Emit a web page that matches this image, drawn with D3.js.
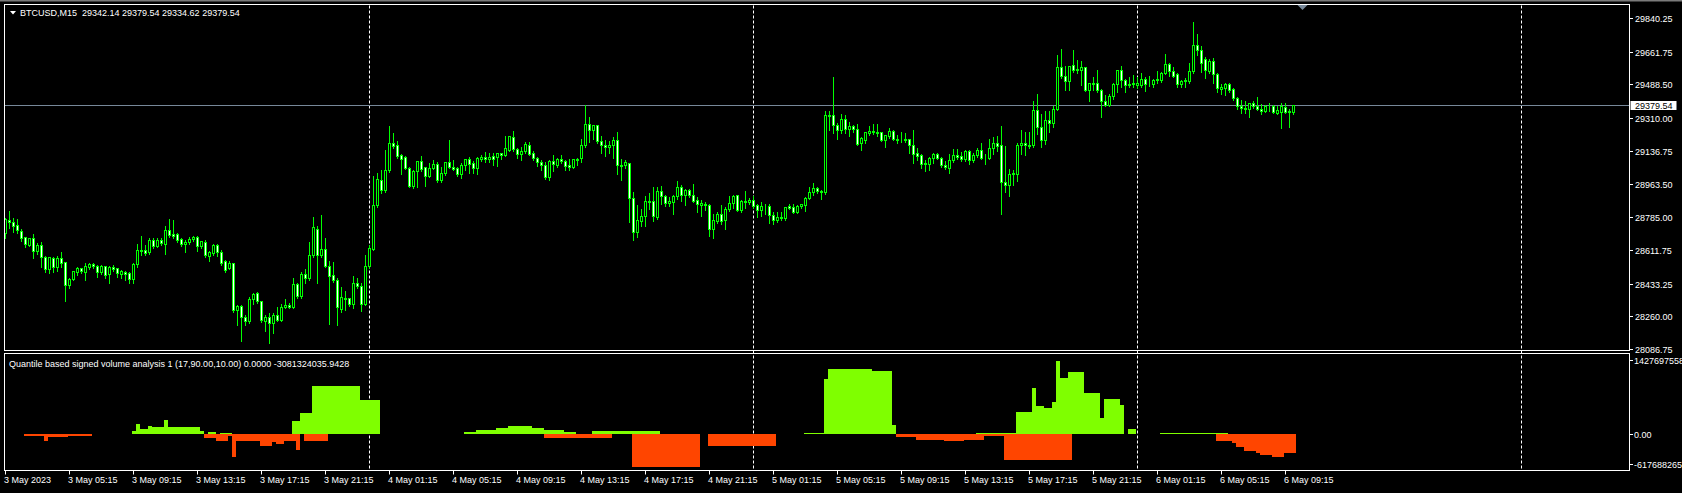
<!DOCTYPE html>
<html>
<head>
<meta charset="utf-8">
<script src="https://cdn.jsdelivr.net/npm/d3@7"></script>
<style>
  html, body { margin: 0; padding: 0; background: #000; overflow: hidden; }
  svg text { font-family: "Liberation Sans", Tahoma, sans-serif; font-size: 9px; fill: #fff; }
</style>
</head>
<body>
<div id="chart"></div>
<script>
// BTCUSD M15, bars from 3 May 2023 01:15
const opens = [
28702,28772,28760,28745,28714,28679,28639,28675,28604,28636,28574,28511,28571,28520,28569,28548,28428,28458,28493,28516,
28493,28521,28538,28527,28493,28525,28485,28523,28514,28486,28493,28490,28458,28538,28613,28609,28601,28666,28634,28662,
28644,28719,28697,28697,28672,28643,28652,28670,28680,28631,28654,28578,28595,28639,28599,28551,28516,28543,28292,28317,
28256,28234,28352,28384,28340,28234,28256,28225,28269,28243,28308,28322,28309,28433,28366,28486,28461,28584,28723,28584,
28617,28529,28481,28454,28299,28357,28357,28327,28437,28423,28327,28525,28617,28848,28984,28927,29033,29179,29165,29112,
29103,29046,28949,29028,29085,29051,29002,29046,29069,28980,29020,29078,29051,29046,29013,29064,29094,29073,29044,29094,
29104,29094,29108,29104,29126,29117,29143,29210,29147,29122,29134,29168,29126,29097,29078,29061,28997,29083,29061,29094,
29083,29059,29051,29094,29097,29168,29280,29245,29271,29189,29170,29156,29167,29196,29064,29061,29073,28887,28705,28763,
28790,28873,28873,28785,28926,28899,28860,28867,28896,28945,28901,28929,28901,28878,28851,28855,28851,28725,28765,28803,
28768,28829,28860,28904,28821,28873,28864,28878,28851,28821,28846,28846,28796,28768,28786,28781,28843,28839,28814,28843,
28851,28887,28917,28940,28926,28917,29320,29329,29276,29245,29307,29253,29267,29253,29179,29196,29232,29244,29238,29235,
29196,29214,29244,29200,29192,29192,29200,29168,29126,29112,29066,29066,29097,29122,29099,29064,29046,29086,29117,29108,
29092,29138,29086,29112,29143,29101,29097,29150,29179,29165,28973,28956,29013,29013,29165,29179,29168,29165,29353,29263,
29192,29302,29285,29359,29581,29535,29505,29592,29563,29567,29581,29461,29497,29497,29461,29401,29380,29426,29488,29567,
29514,29483,29497,29486,29483,29519,29490,29490,29511,29511,29550,29594,29562,29541,29488,29505,29505,29558,29699,29673,
29624,29562,29615,29546,29466,29472,29493,29465,29417,29376,29359,29359,29391,29373,29359,29348,29376,29376,29338,29341,
29369,29341,29342.14
];
const highs = [
28781,28820,28781,28776,28723,28684,28680,28698,28652,28657,28581,28578,28578,28581,28601,28551,28463,28503,28525,28521,
28543,28546,28543,28534,28534,28531,28529,28534,28521,28507,28503,28498,28543,28648,28688,28639,28680,28680,28675,28675,
28740,28776,28772,28705,28675,28666,28684,28688,28688,28662,28666,28609,28648,28648,28613,28560,28556,28546,28322,28322,
28269,28366,28387,28392,28344,28269,28278,28282,28313,28327,28352,28331,28463,28437,28498,28511,28657,28790,28740,28798,
28680,28556,28551,28463,28419,28397,28361,28476,28468,28437,28586,28639,29006,29020,29037,29143,29271,29232,29192,29122,
29112,29055,29037,29086,29112,29055,29073,29090,29081,29055,29081,29196,29090,29055,29073,29097,29104,29086,29104,29117,
29134,29126,29126,29129,29129,29218,29218,29244,29156,29157,29184,29184,29138,29108,29090,29081,29090,29117,29101,29115,
29090,29094,29097,29101,29200,29382,29320,29276,29274,29218,29196,29191,29214,29238,29094,29090,29076,28922,28851,28829,
28899,28917,28949,28945,28953,28904,28896,28904,28979,28958,28935,28935,28963,28896,28878,28869,28855,28807,28813,28851,
28843,28899,28904,28904,28878,28926,28887,28901,28860,28867,28860,28856,28813,28816,28816,28843,28860,28860,28851,28860,
28896,28945,28969,28949,28931,29350,29350,29528,29285,29333,29329,29293,29276,29281,29214,29238,29271,29280,29280,29238,
29223,29260,29249,29221,29238,29232,29203,29249,29152,29122,29090,29104,29126,29129,29104,29086,29122,29150,29147,29133,
29143,29143,29126,29152,29179,29122,29202,29210,29218,29271,29165,29041,29037,29182,29249,29237,29237,29403,29440,29334,
29350,29350,29376,29646,29678,29588,29588,29673,29620,29615,29585,29500,29528,29567,29465,29435,29440,29497,29567,29588,
29521,29528,29539,29532,29550,29528,29535,29521,29563,29556,29652,29602,29585,29550,29514,29527,29606,29821,29758,29694,
29638,29624,29629,29553,29493,29500,29497,29470,29426,29408,29403,29394,29401,29426,29387,29380,29391,29382,29376,29391,
29391,29359,29379.54
];
const lows = [
28680,28728,28710,28702,28662,28631,28634,28569,28595,28525,28498,28493,28498,28503,28525,28345,28410,28454,28481,28493,
28454,28511,28516,28472,28486,28463,28437,28503,28472,28463,28454,28437,28437,28525,28586,28586,28595,28622,28631,28639,
28595,28684,28675,28657,28634,28604,28648,28662,28609,28622,28578,28556,28586,28581,28534,28498,28511,28287,28216,28133,
28216,28229,28327,28335,28234,28186,28123,28172,28239,28238,28304,28304,28304,28361,28361,28440,28454,28578,28440,28578,
28525,28221,28445,28216,28287,28296,28317,28304,28410,28292,28322,28521,28613,28843,28917,28922,29028,29152,29099,29016,
29041,28945,28944,28949,29033,28953,28998,29043,28975,28975,29011,29046,29037,29006,28995,29037,29023,29020,29016,29086,
29081,29081,29064,29061,29094,29114,29139,29138,29103,29090,29129,29117,29090,29059,29037,28990,28984,29033,29055,29076,
29037,29037,29046,29062,29079,29161,29187,29200,29182,29126,29112,29129,29101,29016,28984,29048,28763,28666,28684,28740,
28742,28829,28768,28776,28860,28846,28846,28803,28884,28873,28851,28896,28869,28814,28793,28825,28688,28679,28758,28750,
28723,28821,28839,28820,28814,28834,28856,28839,28790,28793,28807,28758,28750,28763,28772,28772,28829,28811,28811,28836,
28821,28882,28904,28917,28882,28913,29249,29235,29202,29235,29235,29218,29240,29168,29143,29182,29225,29228,29218,29192,
29161,29207,29196,29182,29187,29187,29126,29076,29090,29046,29033,29037,29073,29094,29055,29043,29023,29081,29094,29086,
29086,29069,29081,29104,29094,29069,29094,29122,29136,28803,28922,28899,28958,28979,29122,29117,29152,29161,29228,29161,
29175,29238,29263,29355,29527,29461,29461,29558,29550,29488,29456,29403,29461,29452,29320,29376,29376,29415,29452,29479,
29452,29475,29479,29470,29475,29458,29483,29479,29497,29505,29546,29535,29528,29479,29479,29479,29500,29553,29647,29556,
29523,29553,29497,29452,29440,29435,29452,29408,29359,29338,29338,29320,29364,29355,29334,29345,29352,29338,29334,29260,
29338,29267,29334.62
];
const closes = [
28776,28760,28740,28719,28673,28643,28677,28604,28639,28574,28511,28573,28520,28571,28543,28428,28458,28498,28518,28498,
28525,28539,28525,28493,28529,28481,28523,28511,28490,28498,28486,28458,28538,28609,28604,28595,28666,28634,28662,28648,
28719,28693,28688,28666,28643,28652,28672,28680,28631,28657,28583,28601,28639,28599,28543,28503,28543,28292,28317,28256,
28234,28352,28379,28340,28239,28256,28225,28269,28243,28309,28322,28308,28433,28366,28486,28461,28586,28733,28584,28617,
28529,28472,28450,28309,28362,28349,28327,28437,28419,28327,28529,28622,28848,28988,28927,29037,29179,29161,29108,29094,
29046,28949,29030,29085,29041,29002,29046,29069,28980,29020,29078,29050,29041,29013,29064,29094,29069,29044,29099,29104,
29094,29104,29094,29126,29115,29152,29214,29147,29122,29138,29175,29122,29097,29076,29061,28997,29083,29066,29094,29081,
29055,29051,29094,29086,29168,29280,29245,29271,29187,29167,29157,29170,29196,29061,29057,29076,28885,28705,28768,28793,
28869,28864,28790,28926,28896,28860,28873,28899,28945,28901,28931,28901,28873,28853,28860,28851,28725,28772,28803,28765,
28831,28860,28896,28821,28873,28864,28878,28846,28821,28846,28843,28796,28768,28786,28781,28839,28834,28814,28846,28856,
28887,28920,28940,28922,28919,29324,29329,29271,29245,29307,29253,29267,29253,29175,29202,29235,29244,29235,29232,29196,
29218,29244,29200,29192,29196,29200,29168,29119,29108,29066,29073,29101,29122,29097,29061,29050,29090,29117,29104,29092,
29138,29086,29117,29143,29099,29097,29154,29179,29161,28970,28956,29016,29020,29168,29179,29165,29161,29353,29263,29192,
29302,29285,29359,29581,29532,29505,29588,29563,29572,29581,29461,29497,29493,29458,29399,29380,29429,29493,29567,29511,
29484,29493,29488,29497,29519,29488,29493,29514,29518,29550,29594,29558,29535,29488,29507,29514,29562,29699,29673,29602,
29563,29615,29544,29468,29475,29493,29461,29415,29373,29362,29366,29391,29373,29359,29348,29376,29373,29341,29352,29376,
29341,29348,29379.54
];

// signed volume histogram, runs of bars [first, last, value in millions]
const buyRuns = [
  [32,32,71],[33,33,206],[34,35,109],[36,36,167],[37,39,141],[40,40,283],[41,48,148],[49,49,71],[51,52,51],
  [54,56,20],[72,73,264],[74,76,412],[77,88,939],[89,93,669],
  [115,117,51],[118,122,90],[123,125,129],[126,131,167],[132,134,129],[135,139,90],[140,142,51],[147,163,71],
  [200,204,32],[205,205,1070],[206,216,1267],[217,221,1228],[222,222,186],
  [243,252,32],[253,256,437],[257,257,900],[258,259,553],[260,261,514],[262,262,630],[263,263,1427.697558],
  [264,265,1093],[266,269,1209],[270,273,804],[274,274,320],[275,278,688],[279,279,572],[281,282,109],[289,305,22]
];
const sellRuns = [
  [5,9,-32],[10,10,-116],[11,15,-45],[16,21,-32],[50,52,-70],[53,55,-116],[56,56,-22],[57,57,-425],[58,63,-135],
  [64,66,-230],[67,67,-154],[68,69,-193],[70,72,-135],[73,73,-290],[75,80,-116],
  [135,151,-77],[157,173,-617.688265],[176,192,-231],
  [223,227,-39],[228,234,-103],[235,239,-122],[240,244,-103],[245,249,-26],[250,266,-489],
  [303,306,-122],[307,307,-160],[308,309,-238],[310,312,-315],[313,313,-354],[314,316,-392],[317,319,-431],[320,322,-354]
];

const priceTicks = [29840.25, 29661.75, 29488.50, 29310.00, 29136.75, 28963.50, 28785.00, 28611.75, 28433.25, 28260.00, 28086.75];
const volTicks = [1427697558, 0, -617688265];
const volTickLabels = ["1427697558", "0.00", "-617688265"];
const timeLabels = ["3 May 2023", "3 May 05:15", "3 May 09:15", "3 May 13:15", "3 May 17:15", "3 May 21:15",
  "4 May 01:15", "4 May 05:15", "4 May 09:15", "4 May 13:15", "4 May 17:15", "4 May 21:15",
  "5 May 01:15", "5 May 05:15", "5 May 09:15", "5 May 13:15", "5 May 17:15", "5 May 21:15",
  "6 May 01:15", "6 May 05:15", "6 May 09:15"];
const lastPrice = 29379.54;
const titleText = "BTCUSD,M15  29342.14 29379.54 29334.62 29379.54";
const indicatorText = "Quantile based signed volume analysis 1 (17,90.00,10.00) 0.0000 -3081324035.9428";

const W = 1682, H = 493;
const LEFT = 4.5, RIGHT = 1629.5;
const MAIN = { top: 4.5, bottom: 350.5 };
const SUB = { top: 353.5, bottom: 470.5 };

const n = opens.length;
const t0 = new Date(2023, 4, 3, 1, 15);
const times = opens.map((d, i) => d3.timeMinute.offset(t0, 15 * i));

const buy = new Array(n).fill(0);
const sell = new Array(n).fill(0);
buyRuns.forEach(([a, b, v]) => { for (let i = a; i <= b; i++) buy[i] = v * 1e6; });
sellRuns.forEach(([a, b, v]) => { for (let i = a; i <= b; i++) sell[i] = v * 1e6; });

const svg = d3.select("#chart").append("svg")
  .attr("width", W).attr("height", H)
  .style("background", "#000")
  .style("display", "block");

const x = d3.scaleTime()
  .domain([t0, d3.timeMinute.offset(t0, 15)])
  .range([5.5, 9.5]);
const y = d3.scaleLinear().domain([28086.75, 29840.25]).range([349.5, 18.5]);
const yv = d3.scaleLinear().domain([-617688265, 1427697558]).range([466.5, 360.5]);

const px = v => Math.round(v - 0.5) + 0.5;

// clip areas
const defs = svg.append("defs");
defs.append("clipPath").attr("id", "clipMain").append("rect")
  .attr("x", LEFT + 0.5).attr("y", MAIN.top + 0.5)
  .attr("width", RIGHT - LEFT - 1).attr("height", MAIN.bottom - MAIN.top - 1);
defs.append("clipPath").attr("id", "clipSub").append("rect")
  .attr("x", LEFT + 0.5).attr("y", SUB.top + 0.5)
  .attr("width", RIGHT - LEFT - 1).attr("height", SUB.bottom - SUB.top - 1);

// top grey strip
svg.append("rect").attr("x", 0).attr("y", 0).attr("width", W).attr("height", 1.5).attr("fill", "#7a7a7a");

// day separators
const days = d3.timeDay.range(d3.timeDay.ceil(t0), x.invert(RIGHT));
svg.append("g").selectAll("line").data(days).join("line")
  .attr("x1", d => px(x(d))).attr("x2", d => px(x(d)))
  .attr("y1", MAIN.top + 1).attr("y2", SUB.bottom)
  .attr("stroke", "#fff").attr("stroke-width", 1)
  .attr("stroke-dasharray", "3,2");

// bid line
const gMain = svg.append("g").attr("clip-path", "url(#clipMain)");
gMain.append("line")
  .attr("x1", LEFT).attr("x2", RIGHT)
  .attr("y1", px(y(lastPrice))).attr("y2", px(y(lastPrice)))
  .attr("stroke", "#778899");

// candles
const candles = gMain.append("g").selectAll("g").data(d3.range(n)).join("g");
candles.append("line")
  .attr("x1", i => x(times[i])).attr("x2", i => x(times[i]))
  .attr("y1", i => Math.round(y(Math.max(highs[i], opens[i], closes[i]))))
  .attr("y2", i => Math.round(y(Math.min(lows[i], opens[i], closes[i]))) + 1)
  .attr("stroke", "#00ff00");
candles.append("rect")
  .attr("x", i => x(times[i]) - 1)
  .attr("width", 2)
  .attr("y", i => px(y(Math.max(opens[i], closes[i]))))
  .attr("height", i => Math.max(0, px(y(Math.min(opens[i], closes[i]))) - px(y(Math.max(opens[i], closes[i])))))
  .attr("fill", i => closes[i] >= opens[i] ? "#000" : "#fff")
  .attr("stroke", "#00ff00")
  .attr("stroke-width", 1);

// volume histogram
const gSub = svg.append("g").attr("clip-path", "url(#clipSub)").attr("shape-rendering", "crispEdges");
gSub.append("g").selectAll("rect").data(d3.range(n).filter(i => buy[i] > 0)).join("rect")
  .attr("x", i => x(times[i]) - 2).attr("width", 4)
  .attr("y", i => yv(buy[i]))
  .attr("height", i => yv(0) - yv(buy[i]))
  .attr("fill", "#7fff00");
gSub.append("g").selectAll("rect").data(d3.range(n).filter(i => sell[i] < 0)).join("rect")
  .attr("x", i => x(times[i]) - 2).attr("width", 4)
  .attr("y", yv(0))
  .attr("height", i => yv(sell[i]) - yv(0))
  .attr("fill", "#ff4500");

// window frames
const frame = svg.append("g").attr("fill", "none").attr("stroke", "#fff").attr("stroke-width", 1);
frame.append("rect").attr("x", LEFT).attr("y", MAIN.top).attr("width", RIGHT - LEFT).attr("height", MAIN.bottom - MAIN.top);
frame.append("rect").attr("x", LEFT).attr("y", SUB.top).attr("width", RIGHT - LEFT).attr("height", SUB.bottom - SUB.top);

// shift marker
const mx = x(times[n - 1]) + 9;
svg.append("path")
  .attr("d", `M${mx - 5},${MAIN.top + 0.5}L${mx + 5},${MAIN.top + 0.5}L${mx},${MAIN.top + 5.5}Z`)
  .attr("fill", "#778899");

// price axis
const pa = svg.append("g");
pa.selectAll("line").data(priceTicks).join("line")
  .attr("x1", RIGHT + 0.5).attr("x2", RIGHT + 3.5)
  .attr("y1", d => px(y(d))).attr("y2", d => px(y(d)))
  .attr("stroke", "#fff");
pa.selectAll("text").data(priceTicks).join("text")
  .attr("x", RIGHT + 5.5).attr("y", d => y(d) + 3.5)
  .text(d => d.toFixed(2));

const bidY = px(y(lastPrice));
svg.append("rect").attr("x", RIGHT + 1).attr("y", bidY - 4.5).attr("width", 46).attr("height", 9).attr("fill", "#fff");
svg.append("text").attr("x", RIGHT + 5.5).attr("y", bidY + 3.5).style("fill", "#000").text(lastPrice.toFixed(2));

// volume axis
const va = svg.append("g");
va.selectAll("line").data(volTicks).join("line")
  .attr("x1", RIGHT + 0.5).attr("x2", RIGHT + 3.5)
  .attr("y1", d => px(Math.min(yv(d), 464.5))).attr("y2", d => px(Math.min(yv(d), 464.5)))
  .attr("stroke", "#fff");
va.selectAll("text").data(volTicks).join("text")
  .attr("x", RIGHT + 4.5).attr("y", d => Math.min(yv(d), 464.5) + 3.5)
  .text((d, i) => volTickLabels[i]);

// time axis
const ta = svg.append("g");
const tickIdx = timeLabels.map((d, k) => k * 16);
ta.selectAll("line").data(tickIdx).join("line")
  .attr("x1", i => x(times[i])).attr("x2", i => x(times[i]))
  .attr("y1", SUB.bottom).attr("y2", SUB.bottom + 4)
  .attr("stroke", "#fff");
ta.selectAll("text").data(tickIdx).join("text")
  .attr("x", i => x(times[i]) - 1.5).attr("y", 483)
  .text((i, k) => timeLabels[k]);

// titles
svg.append("path").attr("d", "M10,11L16,11L13,14.5Z").attr("fill", "#fff");
svg.append("text").attr("x", 20).attr("y", 16).attr("xml:space", "preserve").style("white-space", "pre").text(titleText);
svg.append("text").attr("x", 9).attr("y", 366.5).text(indicatorText);
</script>
</body>
</html>
